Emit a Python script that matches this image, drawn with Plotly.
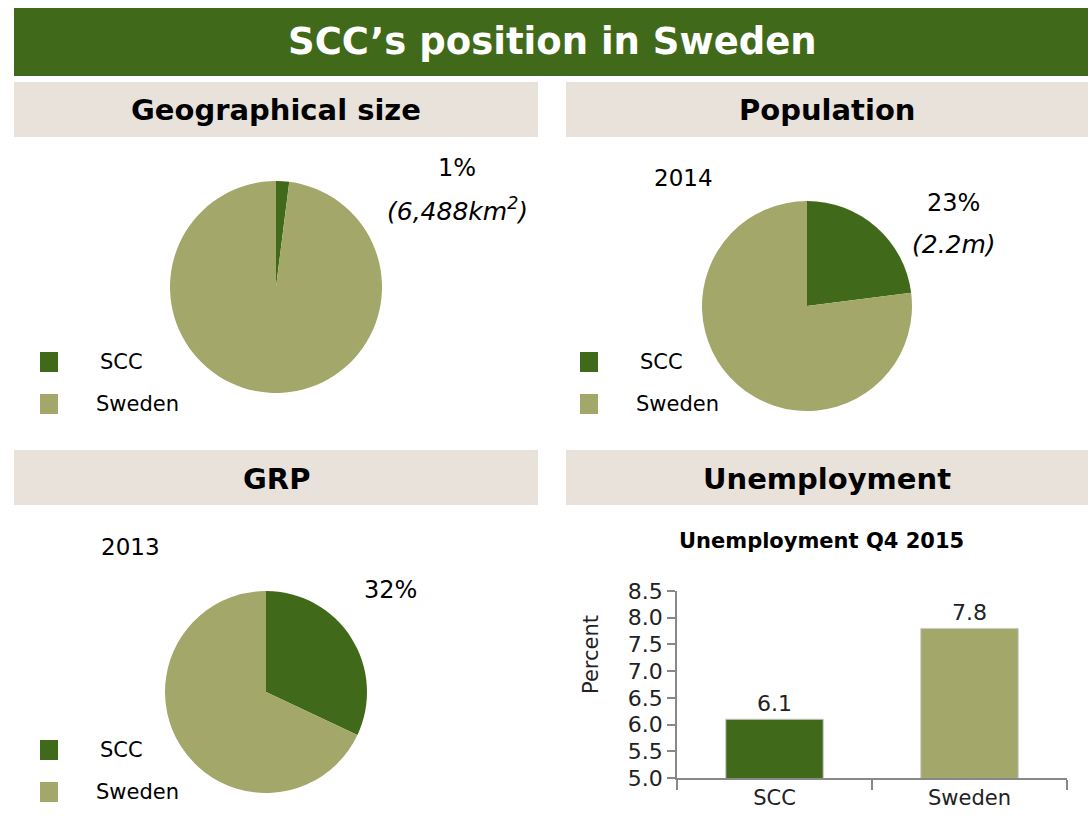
import plotly.graph_objects as go

# ---- data ----
categories = ["SCC", "Sweden"]
geo_share = [2, 98]          # percent of area (slice)
pop_share = [23, 77]         # percent of population 2014
grp_share = [32, 68]         # percent of GRP 2013
unemp_values = [6.1, 7.8]    # unemployment Q4 2015, percent
y_ticks = [5.0, 5.5, 6.0, 6.5, 7.0, 7.5, 8.0, 8.5]

colors = ["#41691A", "#A3A76A"]
W, H = 1088, 816
FONT = "DejaVu Sans"

def px(x):
    return x / W

def py(y):
    return 1 - y / H

fig = go.Figure()

def add_pie(vals, cx, cy, r):
    fig.add_trace(go.Pie(
        labels=categories, values=vals, sort=False, direction="clockwise",
        rotation=0, textinfo="none", hoverinfo="label+percent",
        marker=dict(colors=colors, line=dict(width=0)),
        domain=dict(x=[px(cx - r), px(cx + r)], y=[py(cy + r), py(cy - r)]),
        showlegend=False,
    ))

add_pie(geo_share, 276, 287, 106)
add_pie(pop_share, 807, 306, 105)
add_pie(grp_share, 266, 692, 101)

fig.add_trace(go.Bar(
    x=categories, y=unemp_values, width=0.5,
    marker=dict(color=colors, line=dict(color="#CCCCCC", width=1)),
    text=[f"{v:.1f}" for v in unemp_values], textposition="outside",
    textfont=dict(size=22, color="#222"), cliponaxis=False,
    xaxis="x", yaxis="y", showlegend=False,
))

shapes = []
annotations = []

def note(x, y, t, size, color="black", xanchor="center", angle=0):
    annotations.append(dict(xref="paper", yref="paper", x=px(x), y=py(y),
                            xanchor=xanchor, yanchor="middle", text=t,
                            showarrow=False, textangle=angle,
                            font=dict(size=size, color=color, family=FONT)))

# Title bar
shapes.append(dict(type="rect", xref="paper", yref="paper",
                   x0=px(14), x1=px(1088), y0=py(76), y1=py(8),
                   fillcolor="#41691A", line=dict(width=0), layer="below"))
note(552, 41, "<b>SCC’s position in Sweden</b>", 37, "white")

# Section headers
headers = [("Geographical size", 14, 538, 82, 137),
           ("Population", 566, 1088, 82, 137),
           ("GRP", 14, 538, 450, 505),
           ("Unemployment", 566, 1088, 450, 505)]
for txt, x0, x1, y0, y1 in headers:
    shapes.append(dict(type="rect", xref="paper", yref="paper",
                       x0=px(x0), x1=px(x1), y0=py(y1), y1=py(y0),
                       fillcolor="#E8E2DA", line=dict(width=0), layer="below"))
    note((x0 + x1) / 2, (y0 + y1) / 2 + 1, f"<b>{txt}</b>", 29)

# Legends (swatch + label)
for (sx, tx, y1, y2) in [(40, 98, 362, 404), (580, 638, 362, 404), (40, 98, 750, 792)]:
    for i, (cat, yy) in enumerate(zip(categories, [y1, y2])):
        shapes.append(dict(type="rect", xref="paper", yref="paper",
                           x0=px(sx), x1=px(sx + 18), y0=py(yy + 10), y1=py(yy - 10),
                           fillcolor=colors[i], line=dict(width=0)))
        note(tx - (4 if i == 1 else 0), yy, cat, 21, xanchor="left")

# Pie annotations
note(457, 168, "1%", 24)
note(457, 210, "<i>(6,488km<sup>2</sup>)</i>", 25)
note(683, 178, "2014", 23)
note(953, 203, "23%", 24)
note(954, 244, "<i>(2.2m)</i>", 25)
note(130, 547, "2013", 23)
note(390, 590, "32%", 24)

# Bar chart title and y title
note(821, 541, "<b>Unemployment Q4 2015</b>", 21)
note(591, 655, "Percent", 21, color="#222", angle=-90)

fig.update_layout(
    width=W, height=H,
    margin=dict(l=0, r=0, t=0, b=0, pad=0, autoexpand=False),
    paper_bgcolor="white", plot_bgcolor="white",
    font=dict(family=FONT, color="#222"),
    shapes=shapes, annotations=annotations,
    xaxis=dict(domain=[px(677), px(1067)], anchor="y", showgrid=False,
               showline=True, linecolor="#888", linewidth=1.5,
               ticks="outside", tickson="boundaries", ticklen=10,
               tickcolor="#888", tickwidth=1.5,
               tickfont=dict(size=21, color="#222"), fixedrange=True),
    yaxis=dict(domain=[py(778), py(591)], anchor="x", range=[5.0, 8.5],
               tickvals=y_ticks, tickformat=".1f", showgrid=False,
               showline=True, linecolor="#888", linewidth=1.5,
               ticks="outside", ticklen=8, tickcolor="#888", tickwidth=1.5,
               tickfont=dict(size=22, color="#222"), zeroline=False,
               fixedrange=True),
)

fig.write_html(
    "out.html",
    config={"displayModeBar": False},
    post_script="document.body.style.margin='0';document.body.style.overflow='hidden';",
)
